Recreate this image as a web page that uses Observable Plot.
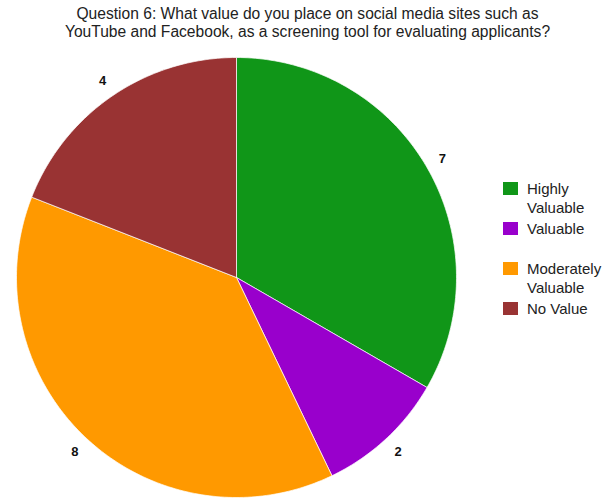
<!DOCTYPE html>
<html>
<head>
<meta charset="utf-8">
<script src="https://cdn.jsdelivr.net/npm/d3@7"></script>
<script src="https://cdn.jsdelivr.net/npm/@observablehq/plot@0.6"></script>
<style>
  body { margin: 0; background: #fff; font-family: "Liberation Sans", Arial, sans-serif; }
  #wrap { position: relative; width: 607px; height: 498px; }
  #title { position: absolute; left: 4px; top: 5px; width: 607px; text-align: center; font-size: 15.6px; line-height: 18px; color: #222; }
  #chart { position: absolute; left: 0; top: 44px; }
  .lg-sq { position: absolute; width: 15px; height: 13px; }
  .lg-tx { position: absolute; font-size: 15px; line-height: 19px; color: #222; }
</style>
</head>
<body>
<div id="wrap">
  <div id="title"></div>
  <div id="chart"></div>
</div>
<script>
const titleLines = ["Question 6: What value do you place on social media sites such as", "YouTube and Facebook, as a screening tool for evaluating applicants?"];
const categories = ["Highly Valuable", "Valuable", "Moderately Valuable", "No Value"];
const legendLines = [["Highly", "Valuable"], ["Valuable"], ["Moderately", "Valuable"], ["No Value"]];
const values = [7, 2, 8, 4];
const colors = ["#109618", "#9900cc", "#ff9900", "#993333"];

document.getElementById("title").innerHTML = titleLines.join("<br>");

const data = categories.map((c, i) => ({category: c, value: values[i]}));
const arcs = d3.pie().sort(null).value(d => d.value)(data);

// polygon outline of each slice in unit-circle coordinates
const polys = [];
arcs.forEach(a => {
  const n = Math.max(2, Math.ceil((a.endAngle - a.startAngle) / (Math.PI / 180)));
  polys.push({category: a.data.category, x: 0, y: 0});
  for (let k = 0; k <= n; k++) {
    const t = a.startAngle + (a.endAngle - a.startAngle) * k / n;
    polys.push({category: a.data.category, x: Math.sin(t), y: Math.cos(t)});
  }
  polys.push({category: a.data.category, x: 0, y: 0});
});

const labels = arcs.map(a => {
  const m = (a.startAngle + a.endAngle) / 2;
  return {label: String(a.data.value), x: 1.08 * Math.sin(m), y: 1.08 * Math.cos(m)};
});

const plot = Plot.plot({
  width: 607,
  height: 454,
  margin: 0,
  x: {domain: [-1, 1], range: [16, 456], axis: null},
  y: {domain: [-1, 1], range: [453, 13], axis: null},
  color: {domain: categories, range: colors},
  marks: [
    Plot.line(polys, {x: "x", y: "y", z: "category", fill: "category", stroke: "white", strokeWidth: 0.7, curve: "linear"}),
    Plot.text(labels, {x: "x", y: "y", text: "label", fontSize: 13, fontWeight: "bold", fill: "#111", fontFamily: "Liberation Sans, Arial, sans-serif"})
  ]
});
document.getElementById("chart").appendChild(plot);

const sqTops = [182, 222, 262, 302];
const wrap = document.getElementById("wrap");
categories.forEach((c, i) => {
  const sq = document.createElement("div");
  sq.className = "lg-sq";
  sq.style.left = "503px";
  sq.style.top = sqTops[i] + "px";
  sq.style.background = colors[i];
  wrap.appendChild(sq);
  const tx = document.createElement("div");
  tx.className = "lg-tx";
  tx.style.left = "527px";
  tx.style.top = (sqTops[i] - 3) + "px";
  tx.innerHTML = legendLines[i].join("<br>");
  wrap.appendChild(tx);
});
</script>
</body>
</html>
